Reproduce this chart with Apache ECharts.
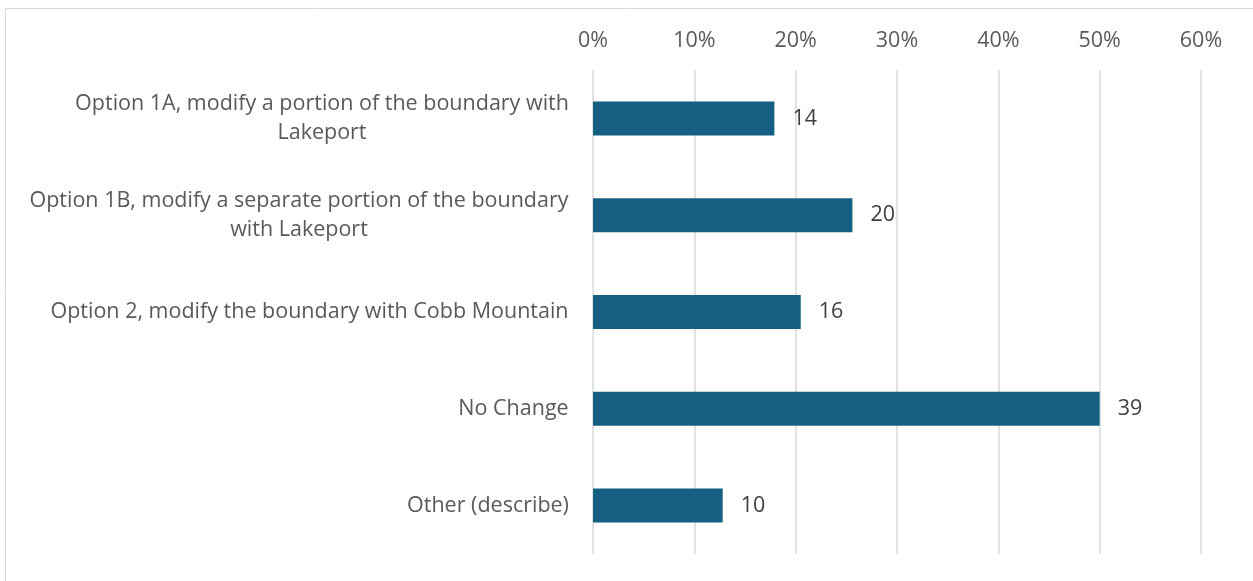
<!DOCTYPE html>
<html>
<head>
<meta charset="utf-8">
<script src="https://cdn.jsdelivr.net/npm/echarts@6/dist/echarts.min.js"></script>
<style>
    html, body { margin: 0; padding: 0; background: #fff; }
    #main { width: 1253px; height: 581px; }
</style>
</head>
<body>
<div id="main"></div>
<script>
// 类目（换行处按原图）
var categories = [
    'Option 1A, modify a portion of the boundary with\nLakeport',
    'Option 1B, modify a separate portion of the boundary\nwith Lakeport',
    'Option 2, modify the boundary with Cobb Mountain',
    'No Change',
    'Other (describe)'
];
// 柱长（百分比）
var percents = [17.9, 25.6, 20.5, 50.0, 12.8];
// 标签上的人数
var counts = [14, 20, 16, 39, 10];
var tickLabels = ['0%', '10%', '20%', '30%', '40%', '50%', '60%'];

var fontFamily = '"Open Sans", Roboto, sans-serif';
var fontSize = 21.5;

// 多行标签居中：按最长一行的宽度给每个类目一个样式
var ctx = document.createElement('canvas').getContext('2d');
ctx.font = fontSize + 'px ' + fontFamily;
var rich = {};
categories.forEach(function (c, i) {
    var w = 0;
    c.split('\n').forEach(function (s) {
        w = Math.max(w, ctx.measureText(s).width);
    });
    rich['c' + i] = {
        width: Math.ceil(w),
        align: 'center',
        fontSize: fontSize,
        fontFamily: fontFamily,
        color: '#595959',
        lineHeight: 29
    };
});

var chart = echarts.init(document.getElementById('main'));

var option = {
    backgroundColor: '#ffffff',
    animation: false,
    textStyle: { fontFamily: fontFamily },
    graphic: [{
        type: 'rect',
        shape: { x: 5.5, y: 8.5, width: 1300, height: 700 },
        style: { fill: 'none', stroke: '#d9d9d9', lineWidth: 1 },
        silent: true
    }],
    grid: {
        left: 593,
        right: 52,
        top: 70,
        bottom: 27
    },
    xAxis: {
        type: 'value',
        position: 'top',
        min: 0,
        max: 60,
        interval: 10,
        axisLine: { show: false },
        axisTick: { show: false },
        axisLabel: {
            fontSize: fontSize,
            color: '#595959',
            margin: 18,
            formatter: function (v) {
                return tickLabels[Math.round(v / 10)];
            }
        },
        splitLine: { lineStyle: { color: '#d9d9d9', width: 1.5 } }
    },
    yAxis: {
        type: 'category',
        inverse: true,
        data: categories,
        axisLine: { show: false },
        axisTick: { show: false },
        axisLabel: {
            margin: 24,
            formatter: function (v, idx) {
                return v.split('\n').map(function (s) { return '{c' + idx + '|' + s + '}'; }).join('\n');
            },
            rich: rich
        }
    },
    series: [{
        type: 'bar',
        data: percents,
        barWidth: 34,
        itemStyle: { color: '#156082' },
        label: {
            show: true,
            position: 'right',
            distance: 18,
            fontSize: fontSize,
            color: '#404040',
            formatter: function (p) {
                return counts[p.dataIndex];
            }
        }
    }]
};

chart.setOption(option);
</script>
</body>
</html>
